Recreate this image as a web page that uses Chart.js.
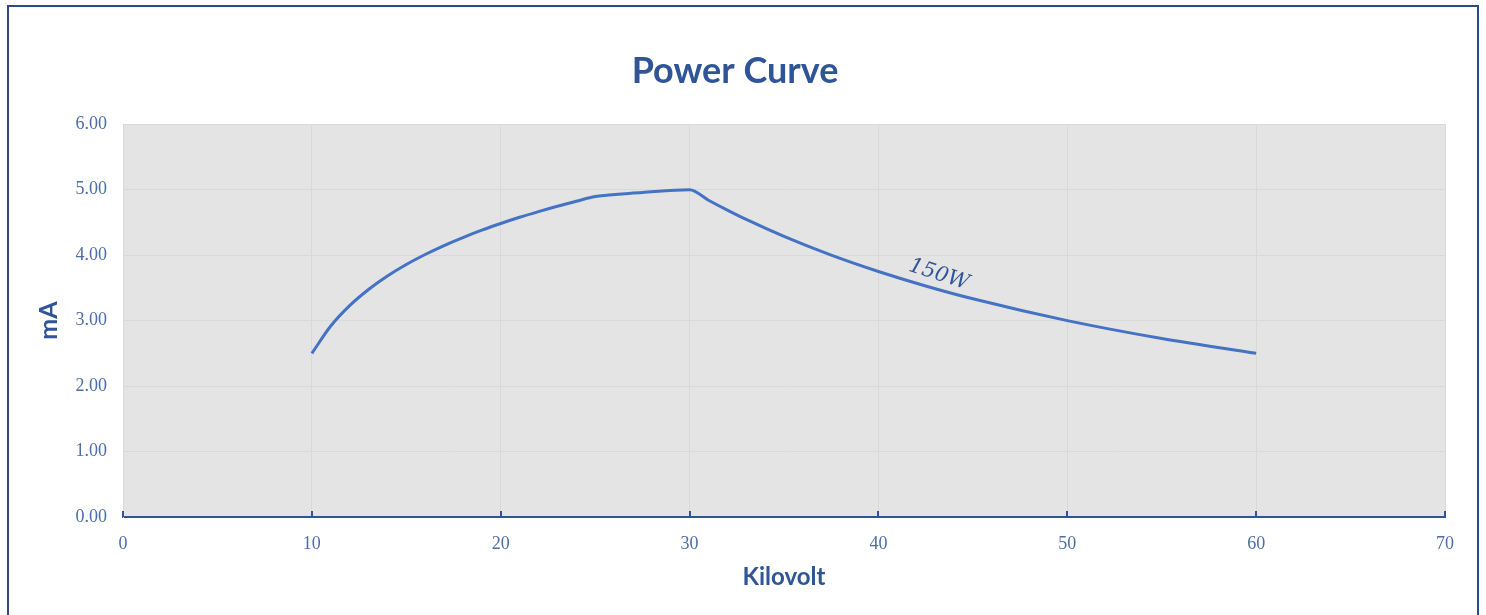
<!DOCTYPE html>
<html>
<head>
<meta charset="utf-8">
<script src="https://cdn.jsdelivr.net/npm/chart.js@4"></script>
<style>
  body { margin: 0; background: #fff; overflow: hidden; }
  #box {
    position: absolute; left: 7px; top: 5px;
    width: 1468px; height: 620px;
    border: 2px solid #2E4A84;
  }
</style>
</head>
<body>
<div id="box"><canvas id="c" width="1468" height="610"></canvas></div>
<script>
// kV / mA readings from the curve
const kilovolt = [10, 11, 12, 13, 14, 15, 16, 17, 18, 19, 20, 21, 22, 23, 24, 25, 27.5, 30,
                  31, 32, 33, 35, 37.5, 40, 42.5, 45, 50, 55, 60];
const milliamps = [2.500, 2.917, 3.228, 3.475, 3.681, 3.857, 4.010, 4.147, 4.269, 4.381,
                   4.483, 4.578, 4.665, 4.747, 4.823, 4.895, 4.955, 5.000,
                   4.839, 4.688, 4.545, 4.286, 4.000, 3.750, 3.529, 3.333, 3.000, 2.727, 2.500];
const xTicks = [0, 10, 20, 30, 40, 50, 60, 70];
const yTicks = [0, 1, 2, 3, 4, 5, 6];
const curveLabel = { text: '150W', x: 43.2, y: 3.70 };

const blue = '#2F5597';
const tickBlue = '#4D6DA6';
const gridGray = '#D9D9D9';

const points = kilovolt.map((v, i) => ({ x: v, y: milliamps[i] }));

// gray plot background
const plotBg = {
    id: 'plotBg',
    beforeDraw(chart) {
        const a = chart.chartArea;
        const ctx = chart.ctx;
        ctx.save();
        ctx.fillStyle = '#E4E4E4';
        ctx.fillRect(a.left, a.top, a.right - a.left, a.bottom - a.top);
        ctx.restore();
    }
};

// small tick marks pointing up from the x axis, plus the 150W label
const extras = {
    id: 'extras',
    afterDraw(chart) {
        const ctx = chart.ctx;
        const xs = chart.scales.x, ys = chart.scales.y;
        const b = chart.chartArea.bottom;
        ctx.save();
        ctx.strokeStyle = blue;
        ctx.lineWidth = 2;
        xTicks.forEach(t => {
            const px = Math.round(xs.getPixelForValue(t));
            ctx.beginPath();
            ctx.moveTo(px, b);
            ctx.lineTo(px, b - 6);
            ctx.stroke();
        });
        ctx.translate(xs.getPixelForValue(curveLabel.x), ys.getPixelForValue(curveLabel.y));
        ctx.rotate(18 * Math.PI / 180);
        ctx.fillStyle = blue;
        ctx.font = 'italic 21px "DejaVu Serif"';
        ctx.textAlign = 'center';
        ctx.textBaseline = 'middle';
        ctx.fillText(curveLabel.text, 0, 0);
        ctx.restore();
    }
};

new Chart(document.getElementById('c'), {
    type: 'scatter',
    data: {
        datasets: [{
            label: 'Power',
            data: points,
            showLine: true,
            borderColor: '#4472C4',
            borderWidth: 3,
            pointRadius: 0,
            cubicInterpolationMode: 'monotone'
        }]
    },
    options: {
        responsive: false,
        animation: false,
        layout: { padding: { left: 16, right: 32, top: 0, bottom: 14 } },
        plugins: {
            legend: { display: false },
            tooltip: { enabled: false },
            title: {
                display: true,
                text: 'Power Curve',
                color: blue,
                font: { family: 'Lato', size: 36, weight: 'bold' },
                padding: { top: 43, bottom: 31 }
            }
        },
        scales: {
            x: {
                type: 'linear',
                min: 0,
                max: 70,
                afterBuildTicks: s => { s.ticks = xTicks.map(v => ({ value: v })); },
                afterFit: s => { s.height = 86; },
                ticks: {
                    color: tickBlue,
                    padding: 16,
                    font: { family: 'Liberation Serif', size: 18 }
                },
                grid: { color: gridGray, drawTicks: false },
                border: { color: blue, width: 2 },
                title: {
                    display: true,
                    text: 'Kilovolt',
                    color: blue,
                    font: { family: 'Lato', size: 24, weight: 'bold' },
                    padding: { top: 0, bottom: 11 }
                }
            },
            y: {
                min: 0,
                max: 6,
                afterBuildTicks: s => { s.ticks = yTicks.map(v => ({ value: v })); },
                afterFit: s => { s.width = 98; },
                ticks: {
                    color: tickBlue,
                    padding: 16,
                    font: { family: 'Liberation Serif', size: 18 },
                    callback: v => Number(v).toFixed(2)
                },
                grid: { color: gridGray, drawTicks: false },
                border: { color: gridGray },
                title: {
                    display: true,
                    text: 'mA',
                    color: blue,
                    font: { family: 'Lato', size: 25, weight: 'bold' },
                    padding: { top: 9, bottom: 0 }
                }
            }
        }
    },
    plugins: [plotBg, extras]
});
</script>
</body>
</html>
